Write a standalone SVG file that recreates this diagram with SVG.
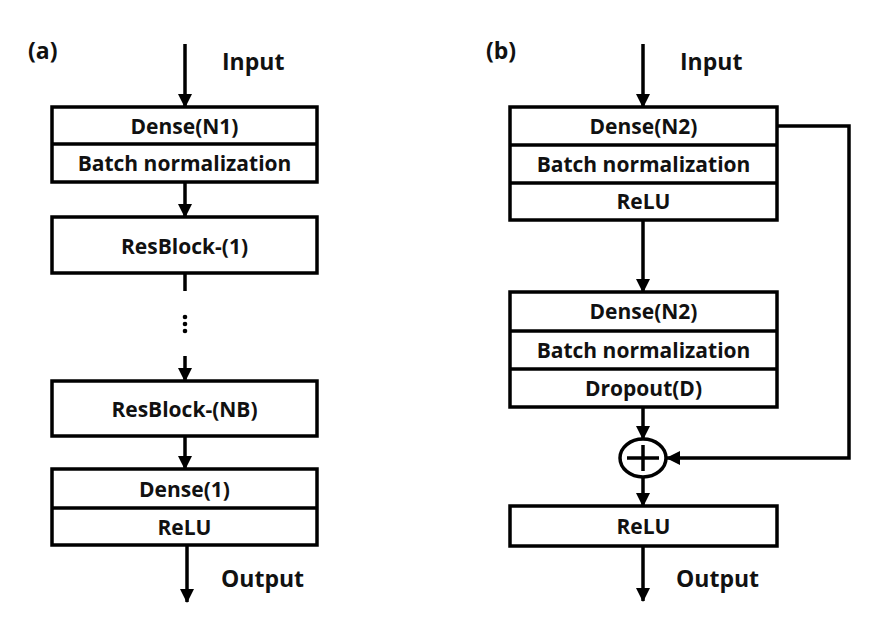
<svg xmlns="http://www.w3.org/2000/svg" width="888" height="636" viewBox="0 0 888 636">
<defs>
<style>
.box{fill:#fff;stroke:#000;stroke-width:3.5}
.div{stroke:#000;stroke-width:3.5}
.lbl{font-family:"Open Sans","Noto Sans",sans-serif;font-weight:bold;font-size:21px;fill:#111;text-anchor:middle;dominant-baseline:central}
.big{font-family:"Open Sans","Noto Sans",sans-serif;font-weight:bold;font-size:23px;fill:#111}
.ln{fill:none;stroke:#000;stroke-width:3.5}
</style>
<marker id="ah" markerUnits="userSpaceOnUse" markerWidth="14" markerHeight="14" viewBox="0 0 14 14" refX="13" refY="7" orient="auto">
<path d="M0,0 L14,7 L0,14 Z" fill="#000"/>
</marker>
</defs>
<rect width="888" height="636" fill="#fff"/>

<text class="big" x="28" y="59">(a)</text>
<text class="big" x="222" y="70">Input</text>
<text class="big" x="221" y="587">Output</text>
<text class="big" x="486" y="59">(b)</text>
<text class="big" x="680" y="70">Input</text>
<text class="big" x="676" y="587">Output</text>

<g id="connectors">
<line class="ln" x1="185" y1="44" x2="185" y2="107" marker-end="url(#ah)"/>
<line class="ln" x1="185" y1="182" x2="185" y2="217" marker-end="url(#ah)"/>
<line class="ln" x1="185" y1="273" x2="185" y2="291"/>
<line class="ln" x1="185" y1="356" x2="185" y2="381" marker-end="url(#ah)"/>
<line class="ln" x1="185" y1="436" x2="185" y2="469" marker-end="url(#ah)"/>
<line class="ln" x1="187" y1="545" x2="187" y2="602" marker-end="url(#ah)"/>
<line class="ln" x1="643" y1="44" x2="643" y2="107" marker-end="url(#ah)"/>
<line class="ln" x1="643" y1="220" x2="643" y2="292" marker-end="url(#ah)"/>
<line class="ln" x1="643" y1="407" x2="643" y2="439" marker-end="url(#ah)"/>
<line class="ln" x1="643" y1="477" x2="643" y2="506" marker-end="url(#ah)"/>
<line class="ln" x1="643" y1="546" x2="643" y2="601" marker-end="url(#ah)"/>
<polyline class="ln" points="777,126 849,126 849,458 667,458" marker-end="url(#ah)"/>
</g>

<g id="dots" fill="#000">
<circle cx="185" cy="317" r="2.3"/>
<circle cx="185" cy="324" r="2.3"/>
<circle cx="185" cy="331" r="2.3"/>
</g>

<g id="a-dense-bn">
<rect class="box" x="52" y="107" width="265" height="75"/>
<line class="div" x1="52" y1="144" x2="317" y2="144"/>
<text class="lbl" x="184.5" y="126">Dense(N1)</text>
<text class="lbl" x="184.5" y="163">Batch normalization</text>
</g>
<g id="a-resblock-1">
<rect class="box" x="52" y="217" width="265" height="56"/>
<text class="lbl" x="184.5" y="246">ResBlock-(1)</text>
</g>
<g id="a-resblock-nb">
<rect class="box" x="52" y="381" width="265" height="55"/>
<text class="lbl" x="184.5" y="409">ResBlock-(NB)</text>
</g>
<g id="a-dense-relu">
<rect class="box" x="52" y="469" width="265" height="76"/>
<line class="div" x1="52" y1="508" x2="317" y2="508"/>
<text class="lbl" x="184.5" y="489">Dense(1)</text>
<text class="lbl" x="184.5" y="527">ReLU</text>
</g>

<g id="b-block1">
<rect class="box" x="510" y="107" width="267" height="113"/>
<line class="div" x1="510" y1="145" x2="777" y2="145"/>
<line class="div" x1="510" y1="183" x2="777" y2="183"/>
<text class="lbl" x="643.5" y="126">Dense(N2)</text>
<text class="lbl" x="643.5" y="164">Batch normalization</text>
<text class="lbl" x="643.5" y="201">ReLU</text>
</g>
<g id="b-block2">
<rect class="box" x="510" y="292" width="267" height="115"/>
<line class="div" x1="510" y1="331" x2="777" y2="331"/>
<line class="div" x1="510" y1="369" x2="777" y2="369"/>
<text class="lbl" x="643.5" y="311">Dense(N2)</text>
<text class="lbl" x="643.5" y="350">Batch normalization</text>
<text class="lbl" x="643.5" y="388">Dropout(D)</text>
</g>
<g id="b-add">
<ellipse cx="643" cy="458" rx="23" ry="19" fill="#fff" stroke="#000" stroke-width="3.5"/>
<line class="ln" x1="627" y1="458" x2="659" y2="458"/>
<line class="ln" x1="643" y1="445" x2="643" y2="471"/>
</g>
<g id="b-relu">
<rect class="box" x="510" y="506" width="267" height="40"/>
<text class="lbl" x="643.5" y="526">ReLU</text>
</g>
</svg>
